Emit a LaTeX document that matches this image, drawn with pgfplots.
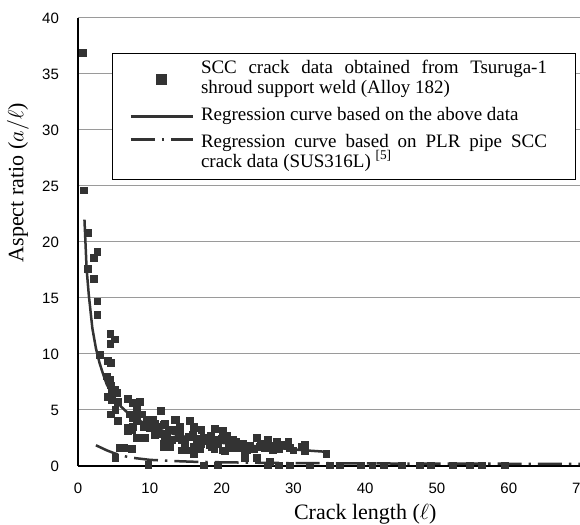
\documentclass[border=0pt]{standalone}
\usepackage{pgfplots}
\pgfplotsset{compat=1.18}
\usepackage{fontspec}
\setmainfont{Liberation Serif}
\newfontfamily\arialfont{Liberation Sans}
\definecolor{dk}{HTML}{333333}
\definecolor{gridc}{HTML}{9A9A9A}

\pgfplotsset{
  markleg/.style={legend image code/.code={\draw[##1, mark size=2.4pt] plot coordinates {(15.5pt,0pt)};}},
  lineleg/.style={legend image code/.code={\draw[##1] (0pt,0pt) -- (31pt,0pt);}},
  dashleg/.style={legend image code/.code={\draw[##1] (0pt,7pt) -- (31pt,7pt);}},
}

\pgfplotstableread{
x y
0.7 36.9
0.8 24.6
1.4 20.8
1.4 17.6
2.2 18.6
2.7 19.1
2.2 16.7
2.7 14.7
2.7 13.5
4.5 11.8
5.1 11.3
4.5 10.9
3.1 9.9
4.2 9.4
4.6 9.2
4.0 8.0
4.4 7.7
4.6 7.2
5.1 6.8
4.7 6.8
5.4 6.5
4.2 6.2
4.7 5.9
5.6 5.7
6.9 6.0
7.6 5.6
8.6 5.7
8.2 5.2
5.2 5.0
4.6 4.6
5.6 4.0
8.2 4.7
7.2 4.6
8.9 4.6
11.6 4.9
10.3 4.1
9.6 4.1
10.5 4.1
8.2 4.0
7.7 4.3
7.7 3.5
7.0 3.1
7.0 3.4
7.5 3.2
8.2 2.5
9.3 2.5
9.1 3.5
10.0 3.4
9.3 3.5
10.7 3.8
11.0 3.5
11.9 3.7
12.1 3.8
11.0 3.2
11.7 2.9
10.7 2.8
12.4 2.6
12.6 3.2
13.5 3.2
11.9 2.0
13.1 2.3
12.1 2.3
13.7 4.1
13.5 4.1
14.0 3.2
14.2 3.5
14.4 2.3
14.0 2.5
12.8 1.7
11.9 1.7
14.4 1.4
12.8 1.9
15.6 4.0
16.1 3.5
16.1 3.4
17.2 3.2
19.1 3.3
20.2 3.1
20.7 2.7
14.2 2.9
14.9 2.0
15.1 1.4
16.1 1.7
17.2 2.0
18.4 1.9
18.6 1.7
20.2 1.4
20.5 1.3
16.1 1.1
21.6 2.3
21.6 1.6
22.6 1.9
23.3 1.1
23.5 1.4
23.3 0.7
24.9 2.5
24.9 0.7
25.3 1.7
26.5 2.3
27.2 1.4
27.7 2.2
29.3 2.2
31.6 1.9
31.2 1.7
31.6 1.3
34.6 1.1
26.7 0.4
5.8 1.6
6.4 1.6
7.5 1.5
5.2 0.7
9.8 0.1
15.5 2.6
16.5 2.4
17.5 2.5
18.0 2.2
19.0 2.3
19.5 2.0
20.0 2.4
21.0 2.0
22.0 2.2
22.5 1.6
23.0 2.0
24.0 1.8
24.5 1.5
25.5 2.0
26.0 1.6
27.0 1.8
28.0 1.5
28.5 1.9
29.5 1.6
30.0 1.4
16.0 2.8
18.5 2.7
17.0 1.5
19.0 1.5
17.5 0.05
19.5 0.05
26.5 0.05
28.0 0.05
29.5 0.05
32.3 0.05
35.1 0.05
36.5 0.05
39.4 0.05
41.0 0.05
42.6 0.05
45.1 0.05
47.6 0.05
49.2 0.05
52.2 0.05
54.6 0.05
56.3 0.05
59.5 0.05
}\scc

\newcommand{\legtwo}[2]{\parbox[c][20pt][c]{178.5pt}{\fontsize{9.5}{10}\selectfont\strut\makebox[173pt][s]{#1}\strut\\\strut #2\strut}}
\newcommand{\legone}[1]{\parbox[c][10pt][c]{178.5pt}{\fontsize{9.5}{10}\selectfont\strut #1\strut}}

\begin{document}
\begin{tikzpicture}
\begin{axis}[
  width=287.2pt, height=224pt, scale only axis,
  xmin=0, xmax=80, ymin=0, ymax=40,
  xtick={0,10,...,80}, ytick={0,5,...,40},
  axis x line*=bottom, axis y line*=left,
  axis line style={black, line width=0.6pt, -},
  ymajorgrids, grid style={gridc, line width=0.5pt},
  major tick length=0pt,
  /pgf/number format/assume math mode=true,
  ticklabel style={font=\arialfont\fontsize{7.5}{9}\selectfont, black},
  yticklabel style={xshift=-6pt},
  xticklabel style={yshift=-5pt},
  xlabel={Crack length ($\ell$)},
  ylabel={Aspect ratio ($a/\ell$)},
  label style={font=\fontsize{11}{13}\selectfont},
  xlabel style={yshift=1.5pt},
  ylabel style={at={(axis description cs:-0.1045,0.632)}, anchor=center},
  legend cell align=left,
  legend style={at={(rel axis cs:0.0592,0.922)}, anchor=north west,
    draw=black, line width=0.5pt, fill=white,
    inner xsep=8.5pt, inner ysep=3pt,
    font=\fontsize{9.5}{10}\selectfont,
    column sep=3.5pt, row sep=3.5pt,
    nodes={inner sep=0pt, text depth=, text height=}},
]
\addplot[only marks, mark=square*, mark size=1.7pt, draw=dk, fill=dk, markleg]
  table[x=x, y=y] {\scc};
\addlegendentry{\legtwo{SCC crack data obtained from Tsuruga-1}{shroud support weld (Alloy 182)}}

\addplot[dk, line width=1.25pt, lineleg]
  coordinates {(0.9,22) (1.2,17.6) (1.5,15.3) (2,12.3) (2.5,10.5) (3,9.2) (3.5,8.2) (4,7.3) (5,6.1) (6,5.3) (7,4.7) (8,4.25) (9,3.9) (10,3.6) (12,3.1) (14,2.75) (16,2.45) (18,2.25) (20,2.07) (22,1.93) (24,1.8) (26,1.7) (28,1.6) (30,1.48) (32,1.38) (35,1.25)};
\addlegendentry{\legone{Regression curve based on the above data}}

\addplot[dk, line width=1.25pt, dash pattern=on 12pt off 3.5pt on 1.2pt off 3.5pt, dashleg]
  coordinates {(2.5,1.85) (3,1.7) (4,1.4) (5,1.15) (6,0.95) (7,0.8) (8,0.7) (10,0.55) (13,0.45) (16,0.38) (20,0.33) (25,0.29) (30,0.26) (40,0.23) (50,0.21) (60,0.2) (70,0.19) (80,0.18)};
\addlegendentry{\legtwo{Regression curve based on PLR pipe SCC}{crack data (SUS316L) \smash{\textsuperscript{[5]}}}}

\coordinate (sw) at (rel axis cs:0,0);
\end{axis}
\pgfresetboundingbox
\path[use as bounding box] ([shift={(-39pt,-29.5pt)}]sw) rectangle ([shift={(251pt,233pt)}]sw);
\end{tikzpicture}
\end{document}
